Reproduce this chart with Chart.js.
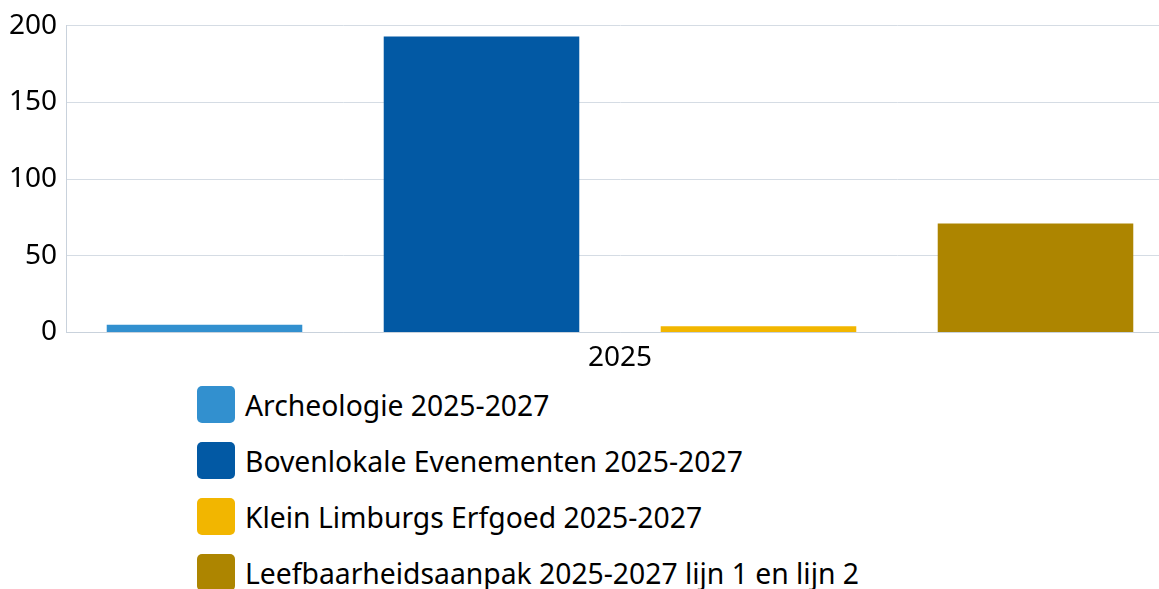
<!DOCTYPE html>
<html>
<head>
<meta charset="utf-8">
<script src="https://cdn.jsdelivr.net/npm/chart.js@4/dist/chart.umd.min.js"></script>
<style>
  html, body { margin: 0; padding: 0; background: #fff; overflow: hidden; width: 1159px; height: 589px; }
  #wrap { position: relative; width: 1159px; height: 589px; overflow: hidden; }
  #chart { position: absolute; left: 0; top: 0; }
  #legend { position: absolute; left: 197px; top: 386px; font-family: "Noto Sans", sans-serif; font-size: 28.3px; color: #000; }
  .item { display: flex; align-items: center; height: 37px; margin-bottom: 19px; white-space: nowrap; }
  .box { width: 38px; height: 37px; border-radius: 5px; margin-right: 10px; flex: none; }
</style>
</head>
<body>
<div id="wrap">
  <canvas id="chart" width="1174" height="384"></canvas>
  <div id="legend"></div>
</div>
<script>
// chart data
let categories = ["2025"];
let seriesNames = [
    "Archeologie 2025-2027",
    "Bovenlokale Evenementen 2025-2027",
    "Klein Limburgs Erfgoed 2025-2027",
    "Leefbaarheidsaanpak 2025-2027 lijn 1 en lijn 2"
];
let seriesValues = [[5], [193], [4], [71]];
let seriesColors = ["#3290cf", "#0259a4", "#f2b600", "#ad8500"];
let yTicks = [0, 50, 100, 150, 200];

let datasets = seriesNames.map((name, i) => ({
    label: name,
    data: seriesValues[i],
    backgroundColor: seriesColors[i],
    borderWidth: 0,
    barPercentage: 0.706,
    categoryPercentage: 1.0
}));

let ctx = document.getElementById("chart").getContext("2d");
new Chart(ctx, {
    type: "bar",
    data: { labels: categories, datasets: datasets },
    options: {
        responsive: false,
        animation: false,
        layout: { padding: { top: 23, right: 0, bottom: 8, left: 0 } },
        plugins: { legend: { display: false }, tooltip: { enabled: false } },
        scales: {
            x: {
                grid: { display: false },
                border: { display: true, color: "#c9d2dc" },
                ticks: { color: "#000", padding: 1, font: { family: "Noto Sans", size: 28 } }
            },
            y: {
                min: 0,
                max: 200,
                afterFit: function (scale) { scale.width = 66; },
                afterBuildTicks: function (scale) { scale.ticks = yTicks.map(v => ({ value: v })); },
                grid: { color: "#d5dce4", drawTicks: false },
                border: { display: true, color: "#c9d2dc" },
                ticks: { color: "#000", padding: 9, font: { family: "Noto Sans", size: 28 } }
            }
        }
    }
});

// legend built from the same arrays
let legend = document.getElementById("legend");
seriesNames.forEach((name, i) => {
    let row = document.createElement("div");
    row.className = "item";
    row.innerHTML = `<span class="box" style="background:${seriesColors[i]}"></span><span>${name}</span>`;
    legend.appendChild(row);
});
</script>
</body>
</html>
